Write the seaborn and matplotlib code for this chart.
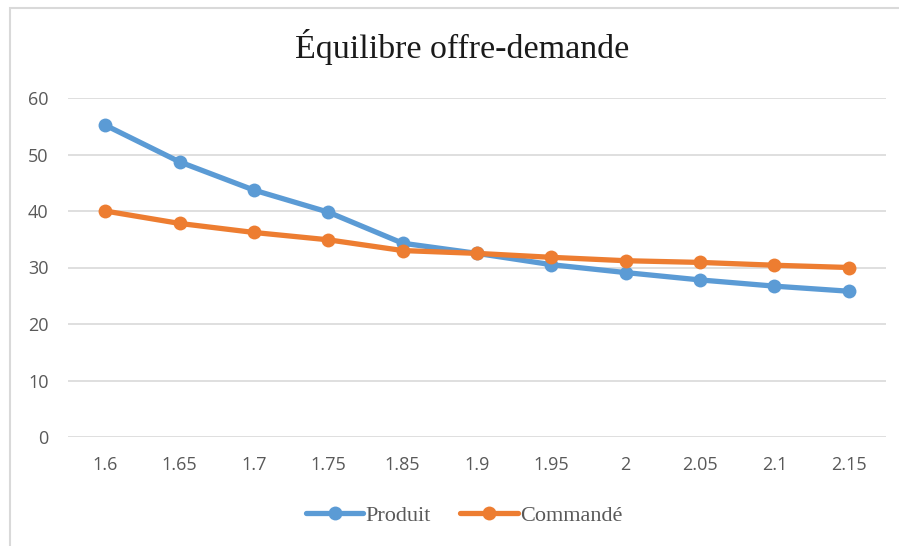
import matplotlib
matplotlib.use("Agg")
import matplotlib.pyplot as plt
import seaborn as sns
import pandas as pd
from matplotlib.patches import Rectangle

categories = ["1.6", "1.65", "1.7", "1.75", "1.85", "1.9", "1.95", "2", "2.05", "2.1", "2.15"]
produit = [55.2, 48.7, 43.7, 39.8, 34.3, 32.5, 30.5, 29.1, 27.8, 26.7, 25.8]
commande = [40.0, 37.8, 36.2, 34.9, 33.0, 32.5, 31.8, 31.2, 30.9, 30.4, 30.0]
series_names = ["Produit", "Commandé"]
y_ticks = [0, 10, 20, 30, 40, 50, 60]

df = pd.DataFrame({
    "x": categories * 2,
    "valeur": produit + commande,
    "serie": [series_names[0]] * len(categories) + [series_names[1]] * len(categories),
})

sns.set_theme(style="white")
fig = plt.figure(figsize=(8.99, 5.46), dpi=100)
ax = fig.add_axes([68 / 899, 1 - 437 / 546, (886 - 68) / 899, (437 - 98) / 546])

palette = {"Produit": "#5B9BD5", "Commandé": "#ED7D31"}
sns.lineplot(data=df, x="x", y="valeur", hue="serie", palette=palette, sort=False,
             marker="o", markersize=10, markeredgewidth=0, linewidth=3.8, ax=ax)

ax.set_xlim(-0.5, len(categories) - 0.5)
ax.set_ylim(0, 60)
ax.set_yticks(y_ticks)
ax.set_yticklabels([str(v) for v in y_ticks])
ax.yaxis.grid(True, color="#d9d9d9", linewidth=1.2)
ax.set_axisbelow(True)
for s in ax.spines.values():
    s.set_visible(False)
ax.tick_params(axis="both", length=0, labelsize=13, labelcolor="#595959", pad=14)
for lab in ax.get_xticklabels() + ax.get_yticklabels():
    lab.set_family("Open Sans")
ax.set_xlabel("")
ax.set_ylabel("")

fig.text(462 / 899, 1 - 47 / 546, "Équilibre offre-demande", ha="center", va="center",
         fontsize=24.5, family="Liberation Serif", color="#1a1a1a")

handles, labels = ax.get_legend_handles_labels()
leg = ax.legend(handles, labels, loc="center", bbox_to_anchor=(464 / 899, 1 - 516 / 546),
                bbox_transform=fig.transFigure, ncol=2, frameon=False, handlelength=2.6,
                handletextpad=0.1, columnspacing=1.3,
                prop={"family": "Liberation Serif", "size": 16})
for t in leg.get_texts():
    t.set_color("#595959")

# light frame: only the top and left edges fall inside the image
fig.patches.append(Rectangle((9.5 / 899, -0.5), 2, 1.5 - 7.5 / 546, transform=fig.transFigure,
                             fill=False, edgecolor="#d9d9d9", linewidth=1.5))

fig.savefig("out.png", dpi=100, facecolor="white")
